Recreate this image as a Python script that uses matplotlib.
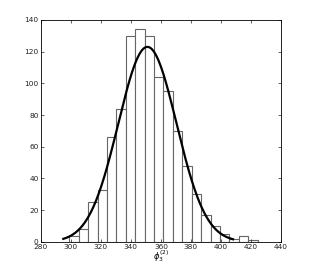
import numpy as np
import matplotlib
matplotlib.use("Agg")
import matplotlib.pyplot as plt

# contagens do histograma (20 classes)
contagens = [4, 8, 25, 33, 66, 84, 130, 134, 130, 104,
             95, 70, 48, 30, 17, 10, 5, 2, 4, 1]
inicio_classe = 299.1
largura_classe = 6.26

# curva normal ajustada
media = 351.0
desvio = 19.4
pico = 123.0
x_min_curva, x_max_curva = 295, 408

bordas = inicio_classe + largura_classe * np.arange(len(contagens))

fig = plt.figure(figsize=(3.11, 2.73), dpi=100)
ax = fig.add_axes([0.131, 0.114, 0.773, 0.813])

ax.bar(bordas, contagens, width=largura_classe, align='edge',
       facecolor='white', edgecolor='#666666', linewidth=0.8)

xc = np.linspace(x_min_curva, x_max_curva, 300)
yc = pico * np.exp(-(xc - media) ** 2 / (2 * desvio ** 2))
ax.plot(xc, yc, color='black', linewidth=1.6)

ax.set_xlim(280, 440)
ax.set_ylim(0, 140)
ax.set_xticks(np.arange(280, 441, 20))
ax.set_yticks(np.arange(0, 141, 20))
ax.tick_params(direction='in', top=True, right=True, labelsize=5.3,
               length=2, width=0.5, pad=1.5, colors='#222222')
for s in ax.spines.values():
    s.set_linewidth(0.6)
ax.set_xlabel(r'$\phi_3^{(2)}$', fontsize=6, labelpad=-1)

fig.savefig('out.png', dpi=100)
